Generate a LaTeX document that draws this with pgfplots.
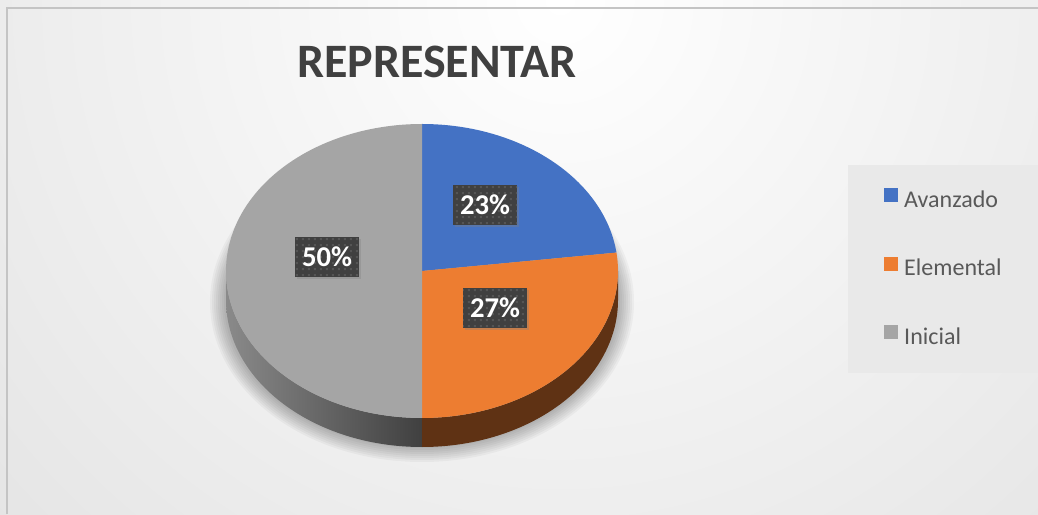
\documentclass[border=0pt]{standalone}
\usepackage{fontspec}
\setmainfont{Carlito}
\usepackage{pgfplots}
\usepackage{pgfplotstable}
\pgfplotsset{compat=1.18}
\usetikzlibrary{shadows,patterns.meta}

\definecolor{cAva}{HTML}{4472C4}
\definecolor{cEle}{HTML}{ED7D31}
\definecolor{cIni}{HTML}{A5A5A5}
\definecolor{cEleSide}{HTML}{5F3214}
\definecolor{cIniSideL}{HTML}{8A8A8A}
\definecolor{cIniSideR}{HTML}{404040}
\definecolor{cLbl}{HTML}{404040}
\definecolor{cDots}{HTML}{555555}
\definecolor{cTitle}{HTML}{404040}
\definecolor{cLegTxt}{HTML}{595959}
\definecolor{cLegBg}{HTML}{E9E9E9}
\definecolor{cFrame}{HTML}{C4C4C4}
\definecolor{cBgOut}{HTML}{C9C9C9}

% porcentaje por nivel
\pgfplotstableread{
nivel     value
Avanzado  23
Elemental 27
Inicial   50
}\pietable

\tikzdeclarepattern{
  name=lbldots, type=uncolored,
  bounding box={(0pt,0pt) and (4.8pt,4.8pt)},
  tile size={(4.8pt,4.8pt)},
  code={\fill (1.6pt,1.6pt) rectangle (3.2pt,3.2pt);}
}

\begin{document}
\begin{tikzpicture}[
  lbl/.style={fill=cLbl, text=white, font=\bfseries\fontsize{21.5}{22}\selectfont,
    minimum width=48pt, minimum height=30.5pt, inner sep=0pt,
    drop shadow={shadow xshift=1.5pt, shadow yshift=-1.5pt, opacity=0.35},
    postaction={pattern=lbldots, pattern color=cDots}},
]
\pgfplotstablegetelem{0}{value}\of\pietable\let\vA\pgfplotsretval
\pgfplotstablegetelem{1}{value}\of\pietable\let\vB\pgfplotsretval
\pgfplotstablegetelem{2}{value}\of\pietable\let\vC\pgfplotsretval
\pgfmathsetmacro\aA{90}
\pgfmathsetmacro\aB{90-3.6*\vA}
\pgfmathsetmacro\aC{\aB-3.6*\vB}
\pgfmathsetmacro\aD{\aC-3.6*\vC}
% centro y radios en px
\def\cx{422}\def\cy{243}\def\Rx{196}\def\Ry{147}\def\D{29}
\def\rx{147pt}\def\ry{110.25pt}
\path[use as bounding box] (0,0) rectangle (778.5pt,385.5pt);
\begin{axis}[
  at={(0,0)}, anchor=south west,
  width=778.5pt, height=385.5pt, scale only axis,
  xmin=0, xmax=1038, ymin=0, ymax=514, enlargelimits=false,
  hide axis,
  legend image code/.code={\fill[#1] (0pt,0pt) rectangle (10.5pt,10.5pt);},
  legend cell align=left,
  legend style={at={(0.8516,0.6342)}, anchor=north west, inner sep=0pt,
    draw=none, fill=none, column sep=4.5pt, row sep=32.75pt,
    font=\fontsize{18}{21.6}\selectfont, text=cLegTxt,
    nodes={inner sep=0pt, text height=12pt, text depth=4pt}},
]
% fondo
\shade[inner color=white, outer color=cBgOut]
  (axis cs:-1040,-1086) rectangle (axis cs:2160,2114);
\draw[cFrame, line width=1.5pt] (axis cs:7,0) -- (axis cs:7,506) -- (axis cs:1038,506);

% sombra del pastel
\pgfplotsinvokeforeach{0,...,7}{
  \fill[black, opacity=0.035] (axis cs:422,212)
    ellipse [x radius={(212-2*#1)*0.75pt}, y radius={(160-2*#1)*0.75pt}];
}

% laterales
\shade[left color=cIniSideL, right color=cIniSideR]
  (axis cs:{\cx-\Rx},\cy)
  arc[start angle=180, end angle=270, x radius=\rx, y radius=\ry]
  -- (axis cs:\cx,{\cy-\Ry-\D})
  arc[start angle=270, end angle=180, x radius=\rx, y radius=\ry] -- cycle;
\fill[cEleSide]
  (axis cs:\cx,{\cy-\Ry})
  arc[start angle=270, end angle=360, x radius=\rx, y radius=\ry]
  -- (axis cs:{\cx+\Rx},{\cy-\D})
  arc[start angle=360, end angle=270, x radius=\rx, y radius=\ry] -- cycle;

% cara superior
\fill[cAva] (axis cs:\cx,\cy) -- (axis cs:{\cx+\Rx*cos(\aA)},{\cy+\Ry*sin(\aA)})
  arc[start angle=\aA, end angle=\aB, x radius=\rx, y radius=\ry] -- cycle;
\fill[cEle] (axis cs:\cx,\cy) -- (axis cs:{\cx+\Rx*cos(\aB)},{\cy+\Ry*sin(\aB)})
  arc[start angle=\aB, end angle=\aC, x radius=\rx, y radius=\ry] -- cycle;
\fill[cIni] (axis cs:\cx,\cy) -- (axis cs:{\cx+\Rx*cos(\aC)},{\cy+\Ry*sin(\aC)})
  arc[start angle=\aC, end angle=\aD, x radius=\rx, y radius=\ry] -- cycle;

% etiquetas
\node[lbl] at (axis cs:485,309) {\vA\%};
\node[lbl] at (axis cs:495,206) {\vB\%};
\node[lbl] at (axis cs:327,257) {\vC\%};

% titulo
\node[font=\bfseries\fontsize{36}{40}\selectfont, text=cTitle] at (axis cs:437,452) {REPRESENTAR};

% leyenda
\fill[cLegBg] (axis cs:848,141) rectangle (axis cs:1038,349);
\addlegendimage{draw=none, fill=cAva}
\addlegendentry{Avanzado}
\addlegendimage{draw=none, fill=cEle}
\addlegendentry{Elemental}
\addlegendimage{draw=none, fill=cIni}
\addlegendentry{Inicial}
\end{axis}
\end{tikzpicture}
\end{document}
